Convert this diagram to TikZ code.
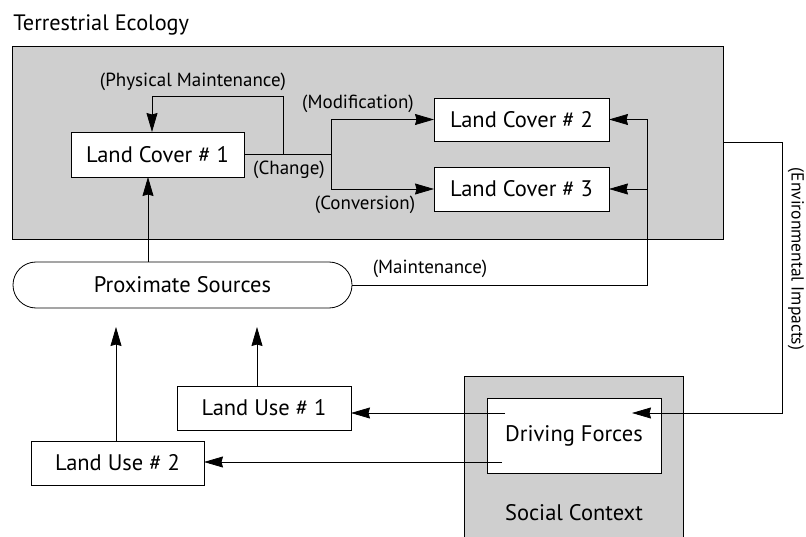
\documentclass[tikz,border=0pt]{standalone}
\usepackage{fontspec}
\setmainfont{PT Sans}
\usetikzlibrary{arrows.meta}
\definecolor{panelgray}{RGB}{207,207,207}
\tikzset{
  box/.style={draw, fill=white, inner sep=0pt, outer sep=0pt, font=\fontsize{22.5}{26}\selectfont},
  lbl/.style={inner sep=0pt, font=\fontsize{19}{22}\selectfont},
  arr/.style={-{Stealth[length=19pt,width=11pt,inset=1.5pt]}},
  every path/.style={line width=0.8pt}
}
\begin{document}
\begin{tikzpicture}[x=1pt,y=-1pt]
\useasboundingbox (0,0) rectangle (806,537);

% panels
\node[draw, fill=panelgray, inner sep=0pt, outer sep=0pt, minimum width=711pt, minimum height=193pt, anchor=north west] (eco) at (12,46) {};
\node[anchor=base west, inner sep=0pt, font=\fontsize{22.3}{26}\selectfont] (title) at (13,31) {Terrestrial Ecology};
\fill[panelgray] (464,376) rectangle (683,537);
\draw (464,537) -- (464,376) -- (683,376) -- (683,537);
\node[lbl, font=\fontsize{22.5}{26}\selectfont] (social) at (574,513) {Social Context};

% boxes
\node[box, minimum width=173pt, minimum height=45pt] (lc1) at (157.5,154.5) {Land Cover \# 1};
\node[box, minimum width=175pt, minimum height=43pt] (lc2) at (521.5,119.5) {Land Cover \# 2};
\node[box, minimum width=175pt, minimum height=44pt] (lc3) at (521.5,189) {Land Cover \# 3};
\node[box, minimum width=339pt, minimum height=46pt, rounded corners=23pt] (prox) at (182.5,285) {Proximate Sources};
\node[box, minimum width=174pt, minimum height=44pt] (lu1) at (264,408) {Land Use \# 1};
\node[box, minimum width=173pt, minimum height=44pt] (lu2) at (117.5,463) {Land Use \# 2};
\node[box, minimum width=174pt, minimum height=75pt] (drive) at (574,435.5) {Driving Forces};

% junction points
\coordinate (cj) at (331,154.5);
\coordinate (pm) at (283,154.5);
\coordinate (mj) at (647,285);
\coordinate (pmx) at (152,96);
\coordinate (upx) at (148,0);
\coordinate (u1) at (257,327);
\coordinate (u2) at (116,327);
\coordinate (d1) at (505,413);
\coordinate (d2) at (502,462);
\coordinate (envc) at (782,0);
\coordinate (envtip) at (632,413);

% land cover change
\draw (lc1.east) -- (cj);
\draw[arr] (pm) |- (pmx) -- (pmx |- lc1.north);
\draw[arr] (cj) |- (lc2.west);
\draw[arr] (cj) |- (lc3.west);

% maintenance from proximate sources
\draw[arr] (prox.east) -- (mj) |- (lc2.east);
\draw[arr] (mj |- lc3.east) -- (lc3.east);
\draw[arr] (upx |- prox.north) -- (upx |- lc1.south);

% environmental impacts
\draw[arr] (eco.east) -- (envc |- eco.east) |- (envtip);

% driving forces to land uses
\draw[arr] (d1) -- (d1 -| lu1.east);
\draw[arr] (d2) -- (d2 -| lu2.east);
\draw[arr] (u1 |- lu1.north) -- (u1);
\draw[arr] (u2 |- lu2.north) -- (u2);

% labels
\node[lbl] (lpm) at (193,82) {(Physical Maintenance)};
\node[lbl] (lmod) at (358,104) {(Modification)};
\node[lbl] (lchg) at (289,170) {(Change)};
\node[lbl] (lconv) at (365,205) {(Conversion)};
\node[lbl] (lmaint) at (430,269) {(Maintenance)};
\node[lbl, rotate=-90, font=\fontsize{17.5}{21}\selectfont] (lenv) at (796,259) {(Environmental Impacts)};
\end{tikzpicture}
\end{document}
